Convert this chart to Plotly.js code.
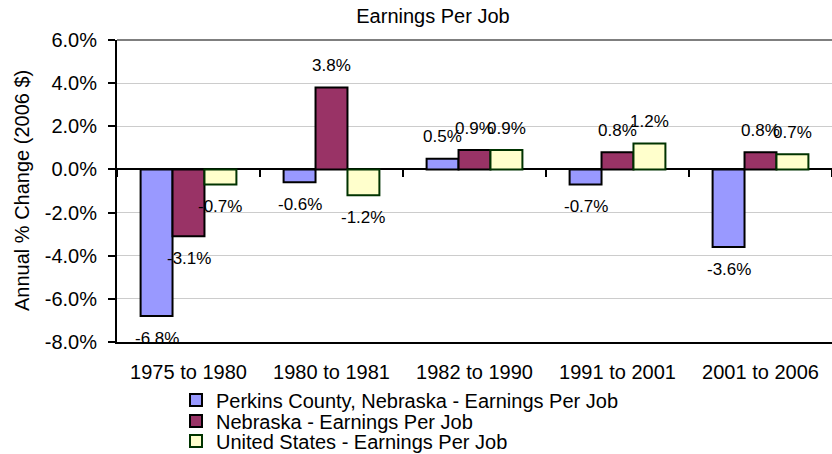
<!DOCTYPE html>
<html>
<head>
<meta charset="utf-8">
<script src="https://cdn.plot.ly/plotly-3.0.1.min.js"></script>
<style>html,body{margin:0;padding:0;background:#fff;}#chart{width:832px;height:454px;}</style>
</head>
<body>
<div id="chart"></div>
<script>
// ---- data ----
const categories = ["1975 to 1980", "1980 to 1981", "1982 to 1990", "1991 to 2001", "2001 to 2006"];
const seriesNames = [
  "Perkins County, Nebraska - Earnings Per Job",
  "Nebraska - Earnings Per Job",
  "United States - Earnings Per Job"
];
const perkins  = [-6.8, -0.6, 0.5, -0.7, -3.6];
const nebraska = [-3.1,  3.8, 0.9,  0.8,  0.8];
const usa      = [-0.7, -1.2, 0.9,  1.2,  0.7];
const yTicks   = [-8, -6, -4, -2, 0, 2, 4, 6];
const yTickText = ["-8.0%", "-6.0%", "-4.0%", "-2.0%", "0.0%", "2.0%", "4.0%", "6.0%"];
const yTitle = "Annual % Change (2006 $)";

// ---- style ----
const FONT = "Liberation Sans, Arial, Helvetica, sans-serif";
const fills = ["#9999FF", "#993366", "#FFFFCC"];
const lines = ["#000000", "#000000", "#003300"];
const seriesVals = [perkins, nebraska, usa];
const legendIds = ["legend", "legend2", "legend3"];

const W = 832, H = 454;
const mL = 117, mR = 0, mT = 40, mB = 112;
const yMin = -8, yMax = 6;
const bargap = 0.33;
const plotW = W - mL - mR;
const catPx = plotW / categories.length;
const barPx = catPx * (1 - bargap) / 3;

const traces = seriesVals.map((vals, i) => ({
  type: "bar",
  name: seriesNames[i],
  x: categories,
  y: vals,
  xaxis: "x",
  yaxis: "y",
  legend: legendIds[i],
  marker: {color: fills[i], line: {color: lines[i], width: 2}},
  hoverinfo: "skip"
}));
// helper trace that carries the category tick marks drawn on the zero line
traces.push({
  type: "scatter", mode: "markers", x: categories, y: categories.map(() => null),
  xaxis: "x2", yaxis: "y", showlegend: false, hoverinfo: "skip"
});

const annotations = [];
seriesVals.forEach((vals, i) => {
  vals.forEach((v, j) => {
    annotations.push({
      x: categories[j], y: v, xref: "x", yref: "y",
      text: v.toFixed(1) + "%",
      showarrow: false,
      xshift: (i - 1) * barPx,
      yshift: v >= 0 ? 22 : -22,
      font: {family: FONT, size: 17, color: "#000"}
    });
  });
});
// vertical axis title
annotations.push({
  xref: "paper", yref: "paper", x: (22 - mL) / plotW, y: 0.5,
  xanchor: "center", yanchor: "middle", textangle: -90, showarrow: false,
  text: yTitle, font: {family: FONT, size: 20, color: "#000"}
});

const legendRows = [400, 421, 441];
const legendBase = {
  xref: "container", yref: "container", xanchor: "left", yanchor: "middle",
  bgcolor: "rgba(0,0,0,0)", borderwidth: 0,
  font: {family: FONT, size: 20, color: "#000"},
  itemclick: false, itemdoubleclick: false
};

const layout = {
  width: W, height: H,
  margin: {l: mL, r: mR, t: mT, b: mB, pad: 0, autoexpand: false},
  paper_bgcolor: "#fff", plot_bgcolor: "#fff",
  font: {family: FONT, color: "#000"},
  title: {
    text: "Earnings Per Job",
    font: {family: FONT, size: 20, color: "#000"},
    xref: "container", x: 433 / W, xanchor: "center",
    yref: "container", y: 1 - 16 / H, yanchor: "middle"
  },
  barmode: "group", bargap: bargap, bargroupgap: 0,
  xaxis: {
    type: "category", range: [-0.5, categories.length - 0.5],
    anchor: "y", side: "bottom",
    showline: true, linecolor: "#000", linewidth: 2,
    showgrid: false, zeroline: false, ticks: "",
    ticklabelstandoff: 11, tickangle: 0,
    tickfont: {family: FONT, size: 20, color: "#000"}, fixedrange: true
  },
  xaxis2: {
    type: "category", range: [-0.5, categories.length - 0.5],
    overlaying: "x", anchor: "free", position: (0 - yMin) / (yMax - yMin), side: "bottom",
    showline: false, showgrid: false, zeroline: false,
    ticks: "outside", tickson: "boundaries", ticklen: 7, tickwidth: 2, tickcolor: "#000",
    showticklabels: false, fixedrange: true
  },
  yaxis: {
    range: [yMin, yMax], anchor: "x",
    tickmode: "array", tickvals: yTicks, ticktext: yTickText,
    tickfont: {family: FONT, size: 20, color: "#000"},
    ticks: "outside", ticklen: 7, tickwidth: 2, tickcolor: "#000",
    ticklabelstandoff: 7,
    showline: true, linecolor: "#000", linewidth: 2,
    showgrid: true, gridcolor: "#CCCCCC", gridwidth: 1,
    zeroline: true, zerolinecolor: "#000", zerolinewidth: 2,
    fixedrange: true
  },
  shapes: [{
    type: "line", xref: "paper", yref: "paper", x0: 0, x1: 1, y0: 1, y1: 1,
    line: {color: "#7F7F7F", width: 2}
  }],
  annotations: annotations,
  showlegend: true,
  legend:  Object.assign({}, legendBase, {x: 176 / W, y: 1 - legendRows[0] / H}),
  legend2: Object.assign({}, legendBase, {x: 176 / W, y: 1 - legendRows[1] / H}),
  legend3: Object.assign({}, legendBase, {x: 176 / W, y: 1 - legendRows[2] / H})
};

Plotly.newPlot("chart", traces, layout, {displayModeBar: false, staticPlot: true});
</script>
</body>
</html>
